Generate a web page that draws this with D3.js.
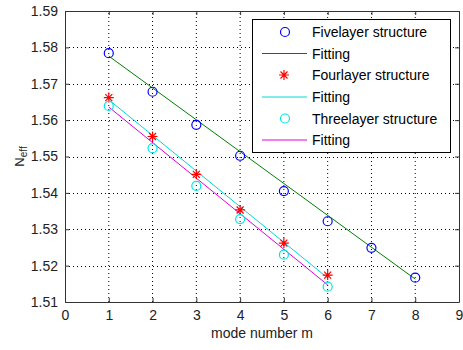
<!DOCTYPE html>
<html>
<head>
<meta charset="utf-8">
<script src="https://cdn.jsdelivr.net/npm/d3@7"></script>
<style>
  body { margin: 0; background: #fff; }
  text { font-family: "Liberation Sans", Arial, sans-serif; }
</style>
</head>
<body>
<div id="chart"></div>
<script>
// mode numbers and measured effective indices
var modesFive = [1, 2, 3, 4, 5, 6, 7, 8];
var neffFive = [1.5784, 1.5678, 1.5587, 1.5502, 1.5405, 1.5322, 1.5249, 1.5167];
var modesFour = [1, 2, 3, 4, 5, 6];
var neffFour = [1.5662, 1.5555, 1.5451, 1.5353, 1.5262, 1.5174];
var modesThree = [1, 2, 3, 4, 5, 6];
var neffThree = [1.5639, 1.5523, 1.5419, 1.5328, 1.5230, 1.5142];

// fitted line end points [m, neff]
var fitFive = [[1, 1.5776], [8, 1.5163]];
var fitFour = [[1, 1.5656], [6, 1.5166]];
var fitThree = [[1, 1.5636], [6, 1.5147]];

var xTicks = [0, 1, 2, 3, 4, 5, 6, 7, 8, 9];
var yTicks = [1.51, 1.52, 1.53, 1.54, 1.55, 1.56, 1.57, 1.58, 1.59];
var legendLabels = ["Fivelayer structure", "Fitting", "Fourlayer structure", "Fitting", "Threelayer structure", "Fitting"];

var width = 463, height = 350;
var margin = {top: 11, right: 4, bottom: 48, left: 65};

var svg = d3.select("#chart").append("svg")
    .attr("width", width)
    .attr("height", height);

var x = d3.scaleLinear().domain([0, 9]).range([margin.left, width - margin.right]);
var y = d3.scaleLinear().domain([1.51, 1.59]).range([height - margin.bottom, margin.top]);

var x0 = x(0), x1 = x(9), y0 = y(1.51), y1 = y(1.59);

// dotted grid
var grid = svg.append("g");
grid.selectAll(".vg")
    .data(xTicks.slice(1, -1))
    .enter().append("line")
    .attr("x1", function(d){ return x(d); })
    .attr("x2", function(d){ return x(d); })
    .attr("y1", y0).attr("y2", y1)
    .attr("stroke", "#000")
    .attr("stroke-width", 1)
    .attr("stroke-dasharray", "1,3");
grid.selectAll(".hg")
    .data(yTicks.slice(1, -1))
    .enter().append("line")
    .attr("y1", function(d){ return Math.round(y(d)) + 0.5; })
    .attr("y2", function(d){ return Math.round(y(d)) + 0.5; })
    .attr("x1", x0).attr("x2", x1)
    .attr("stroke", "#000")
    .attr("stroke-width", 1)
    .attr("stroke-dasharray", "1,3");

// axes (ticks point inward, box on all sides)
var axColor = "#333";
function styleAxis(g){
  g.select(".domain").attr("stroke", axColor);
  g.selectAll(".tick line").attr("stroke", axColor);
  g.selectAll(".tick text").attr("fill", "#222").style("font-size", "14px")
    .style("font-family", "Liberation Sans, Arial, sans-serif");
}

svg.append("g")
    .attr("transform", "translate(0," + y0 + ")")
    .call(d3.axisBottom(x).tickValues(xTicks).tickSizeInner(-4).tickSizeOuter(0).tickPadding(8).tickFormat(d3.format("d")))
    .call(styleAxis);
svg.append("g")
    .attr("transform", "translate(0," + y1 + ")")
    .call(d3.axisTop(x).tickValues(xTicks).tickSizeInner(-4).tickSizeOuter(0).tickFormat(""))
    .call(styleAxis);
svg.append("g")
    .attr("transform", "translate(" + x0 + ",0)")
    .call(d3.axisLeft(y).tickValues(yTicks).tickSizeInner(-4).tickSizeOuter(0).tickPadding(7).tickFormat(d3.format(".2f")))
    .call(styleAxis);
svg.append("g")
    .attr("transform", "translate(" + x1 + ",0)")
    .call(d3.axisRight(y).tickValues(yTicks).tickSizeInner(-4).tickSizeOuter(0).tickFormat(""))
    .call(styleAxis);

// axis labels
svg.append("text")
    .attr("x", (x0 + x1) / 2)
    .attr("y", 338)
    .attr("text-anchor", "middle")
    .style("font-size", "14px")
    .attr("fill", "#222")
    .text("mode number m");

var yl = svg.append("text")
    .attr("transform", "translate(24," + (y(1.55)) + ") rotate(-90)")
    .attr("text-anchor", "middle")
    .style("font-size", "13px")
    .attr("fill", "#222");
yl.append("tspan").text("N");
yl.append("tspan").attr("dy", 3).style("font-size", "10px").text("eff");

// fitted lines
var line = d3.line()
    .x(function(d){ return x(d[0]); })
    .y(function(d){ return y(d[1]); });

function drawFit(pts, color){
  svg.append("path")
      .datum(pts)
      .attr("d", line)
      .attr("fill", "none")
      .attr("stroke", color)
      .attr("stroke-width", 1);
}
drawFit(fitFive, "#008000");
drawFit(fitFour, "#00d8d8");
drawFit(fitThree, "#e000e0");

// markers
function circles(ms, vals, color){
  svg.append("g").selectAll("circle")
      .data(ms)
      .enter().append("circle")
      .attr("cx", function(d){ return x(d); })
      .attr("cy", function(d, i){ return y(vals[i]); })
      .attr("r", 4.5)
      .attr("fill", "none")
      .attr("stroke", color)
      .attr("stroke-width", 1.2);
}
function star(g, cx, cy, s){
  g.append("path")
    .attr("d", "M" + (cx - s) + "," + cy + "H" + (cx + s) +
               "M" + cx + "," + (cy - s) + "V" + (cy + s) +
               "M" + (cx - s * 0.7) + "," + (cy - s * 0.7) + "L" + (cx + s * 0.7) + "," + (cy + s * 0.7) +
               "M" + (cx - s * 0.7) + "," + (cy + s * 0.7) + "L" + (cx + s * 0.7) + "," + (cy - s * 0.7))
    .attr("stroke", "#ff0000")
    .attr("stroke-width", 1.2)
    .attr("fill", "none");
}

circles(modesFive, neffFive, "#0000ff");
var starG = svg.append("g");
modesFour.forEach(function(m, i){
  star(starG, x(m), y(neffFour[i]), 5);
});
circles(modesThree, neffThree, "#00e5e5");

// legend
var lg = svg.append("g");
lg.append("rect")
    .attr("x", 252.5).attr("y", 19.5)
    .attr("width", 198).attr("height", 133)
    .attr("fill", "#fff")
    .attr("stroke", "#000")
    .attr("stroke-width", 1);

var legY = [32, 53.5, 75, 97, 118.5, 140];
legendLabels.forEach(function(label, i){
  var ly = legY[i];
  if (i == 0){
    lg.append("circle").attr("cx", 285).attr("cy", ly).attr("r", 4.5)
      .attr("fill", "none").attr("stroke", "#0000ff").attr("stroke-width", 1.2);
  } else if (i == 2){
    star(lg, 284, ly, 5);
  } else if (i == 4){
    lg.append("circle").attr("cx", 285).attr("cy", ly).attr("r", 4.5)
      .attr("fill", "none").attr("stroke", "#00e5e5").attr("stroke-width", 1.2);
  } else {
    var c = i == 1 ? "#008000" : (i == 3 ? "#00d8d8" : "#e000e0");
    lg.append("line").attr("x1", 262).attr("x2", 307)
      .attr("y1", ly).attr("y2", ly)
      .attr("stroke", c).attr("stroke-width", 1);
  }
  lg.append("text")
    .attr("x", 312)
    .attr("y", ly + 5)
    .style("font-size", "14px")
    .attr("fill", "#000")
    .text(label);
});
</script>
</body>
</html>
